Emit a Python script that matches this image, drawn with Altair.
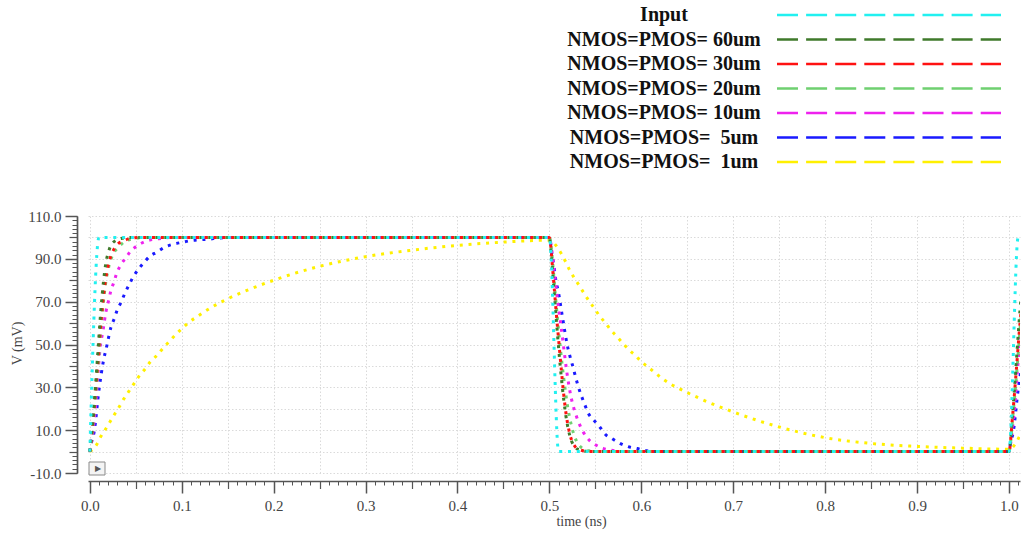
import altair as alt
import pandas as pd

# ---- waveform samples: time in ns, voltage in mV ----
input_t = [0.0, 0.01, 0.5, 0.51, 1.0, 1.01, 1.014]
input_v = [0, 100, 100, 0, 0, 100, 100]

w60_t = [0, .004, .008, .012, .015, .0174, .0205, .0228, .029, .035, .045,
         .5, .5015, .503, .5055, .508, .5105, .513, .5155, .518, .521, .524, .528, .533, .54, .55,
         1.0, 1.004, 1.008, 1.012, 1.015]
w60_v = [0, 18, 42, 66, 80, 88, 93.5, 96.2, 98.7, 99.6, 100,
         100, 95, 87, 73, 59, 46, 34.5, 24.5, 16.5, 9.5, 5, 2, 0.7, 0.1, 0,
         0, 18, 42, 66, 80]

w30_t = [0, .004, .008, .012, .016, .0195, .0228, .027, .0315, .0363, .042, .055,
         .5, .5015, .503, .5055, .508, .5105, .513, .5155, .518, .521, .524, .528, .533, .54, .55,
         1.0, 1.004, 1.008, 1.012, 1.016]
w30_v = [0, 17, 38, 60, 77, 86, 91.3, 95, 97.3, 98.3, 99.3, 100,
         100, 96, 88, 75, 62, 50, 38, 27, 18, 10.5, 5.5, 2.3, 0.8, 0.2, 0,
         0, 17, 38, 60, 77]

w20_t = [0, .0045, .009, .013, .017, .021, .025, .0308, .037, .045, .06,
         .5, .502, .504, .5065, .509, .5115, .514, .517, .52, .5235, .527, .531, .536, .543, .555,
         1.0, 1.0045, 1.009, 1.013, 1.017]
w20_v = [0, 18, 40, 62, 78, 87, 92, 95.2, 97.8, 99.2, 100,
         100, 95, 86, 73, 61, 50, 40, 29.5, 20.5, 13, 7.5, 3.8, 1.5, 0.4, 0,
         0, 18, 40, 62, 78]

w10_t = [0, .003, .006, .009, .0109, .0145, .0174, .0207, .0228, .0261, .029, .0334, .0392,
         .0443, .052, .0617, .075, .09,
         .5, .5025, .505, .508, .5105, .5131, .516, .519, .5238, .5294, .5365, .5438, .5493,
         .5584, .566, .58,
         1.0, 1.003, 1.006, 1.009, 1.0109, 1.0145]
w10_v = [0, 8, 20, 37, 47, 57, 65, 71, 75, 79, 83, 87, 90.5,
         93.5, 96.2, 98.3, 99.4, 100,
         100, 94, 85, 74, 65, 57, 47, 37, 25, 16.5, 9.4, 5.1, 3.4,
         1.5, 0.7, 0,
         0, 8, 20, 37, 47, 57]

w5_t = [0, .0018, .0045, .0101, .0145, .0188, .0228, .0265, .0297, .0337, .038, .0428, .0471,
        .0526, .0587, .0653, .0732, .0816, .0906, .1004, .11, .12, .13, .14, .16,
        .5, .5025, .5047, .507, .5096, .5143, .5193, .5259, .5313, .5385, .5422, .5484, .5548,
        .561, .5683, .5774, .5857, .5957, .6056, .62,
        1.0, 1.0018, 1.0045, 1.0101, 1.0145]
w5_v = [0, 4.3, 8.8, 29.3, 41.7, 50, 57.8, 62, 66, 69.5, 73.8, 78, 81.5,
        85, 88.2, 91.2, 93.2, 95.5, 96.8, 97.7, 98.5, 98.9, 99.2, 99.7, 100,
        100, 93, 87.4, 80, 74.9, 62.5, 50, 39.1, 30.5, 21.9, 18, 14.6, 11.5,
        8, 6, 3.7, 2.3, 1.4, 0.4, 0,
        0, 4.3, 8.8, 29.3, 41.7]

w1_t = [0, .0073, .0116, .0167, .0218, .0269, .032, .037, .0424, .0479, .0536, .0602, .066,
        .0732, .0797, .087, .0943, .1004, .108, .1167, .1243, .133, .1414, .1494,
        .2, .25, .3, .35, .4, .45, .5,
        .5076, .513, .5178, .5221, .5268, .5323, .5374, .5428, .5486, .554, .5602, .5664, .573,
        .5795, .5863, .5936, .6008, .6084, .6164, .6244, .6328, .6418,
        .66, .7, .75, .8, .85, .9, .95, 1.0,
        1.0073, 1.0116, 1.0167]
w1_v = [0, 3.2, 6.8, 10.2, 13.8, 17.4, 20.9, 24.6, 28.1, 31.6, 35.2, 38.6, 42,
        45, 48.3, 51.7, 55, 57.5, 60.5, 63, 65.2, 67.5, 69.5, 71.2,
        80, 86.5, 91, 94, 96.3, 97.8, 98.7,
        96, 92.4, 88.5, 84.7, 81.2, 77.6, 74.1, 70.5, 67.1, 63.7, 60.4, 57, 53.9,
        50.8, 47.6, 44.8, 41.7, 39.1, 36.3, 33.6, 31.3, 29.3,
        25.5, 18.5, 11.5, 6.5, 3.8, 2.4, 1.6, 1.1,
        3.8, 7.2, 10.6]

# ---- series names and colours (legend order) ----
labels = ["Input", "NMOS=PMOS= 60um", "NMOS=PMOS= 30um", "NMOS=PMOS= 20um",
          "NMOS=PMOS= 10um", "NMOS=PMOS= \u00a05um", "NMOS=PMOS= \u00a01um"]
colors = ["#22f0f0", "#3f7a2b", "#ff1111", "#6fd070", "#ee22ee", "#1a1aff", "#fff000"]
waves = [(input_t, input_v), (w60_t, w60_v), (w30_t, w30_v), (w20_t, w20_v),
         (w10_t, w10_v), (w5_t, w5_v), (w1_t, w1_v)]

# ---- axis tick positions ----
x_major_ticks = [round(i * 0.1, 2) for i in range(11)]
x_mid_ticks = [round(0.05 + i * 0.1, 2) for i in range(10)]
x_minor_ticks = [round(i * 0.01, 2) for i in range(102)]
x_grid_ticks = [round(i * 0.05, 2) for i in range(21)]
y_major_ticks = list(range(-10, 111, 20))
y_mid_ticks = list(range(0, 101, 20))
y_minor_ticks = list(range(-10, 111, 2))
y_grid_ticks = list(range(-10, 111, 10))

frames = []
for name, (ts, vs) in zip(labels, waves):
    frames.append(pd.DataFrame({"t": ts, "v": vs, "series": name}))
wave_df = pd.concat(frames, ignore_index=True)

serif = "Liberation Serif"
axis_color = "#555555"
text_color = "#444444"
grid_color = "#dadada"

xscale = alt.Scale(domain=[-0.002, 1.012], nice=False, zero=False)
yscale = alt.Scale(domain=[-10, 110], nice=False, zero=False)

common = dict(labelFlush=False, labelOverlap=False)

x_major = alt.Axis(orient="bottom", offset=8, values=x_major_ticks, format=".1f",
                   tickSize=12, tickWidth=1.5, tickColor=axis_color,
                   domainColor=axis_color, domainWidth=1.7,
                   labelFont=serif, labelFontSize=15, labelColor=text_color, labelPadding=5,
                   grid=False, title="time (ns)", titleFont=serif, titleFontSize=14,
                   titleFontWeight="normal", titleColor=text_color,
                   titleX=493, titleY=40, titleAlign="center", titleBaseline="middle", **common)
x_mid = alt.Axis(orient="bottom", offset=8, values=x_mid_ticks, tickSize=7.5, tickWidth=1.2,
                 tickColor=axis_color, domain=False, labels=False, grid=False, title=None)
x_minor = alt.Axis(orient="bottom", offset=8, values=x_minor_ticks, tickSize=4, tickWidth=1,
                   tickColor=axis_color, domain=False, labels=False, grid=False, title=None)
x_grid = alt.Axis(orient="bottom", values=x_grid_ticks, ticks=False, domain=False, labels=False,
                  grid=True, gridColor=grid_color, gridDash=[1.5, 2], gridWidth=1, title=None)

y_major = alt.Axis(orient="left", offset=11, values=y_major_ticks,
                   labelExpr="(datum.value < 0 ? '-' : '') + format(abs(datum.value), '.1f')",
                   tickSize=12, tickWidth=1.5, tickColor=axis_color,
                   domainColor=axis_color, domainWidth=1.7,
                   labelFont=serif, labelFontSize=15, labelColor=text_color, labelPadding=4,
                   grid=False, title="V (mV)", titleFont=serif, titleFontSize=14,
                   titleFontWeight="normal", titleColor=text_color,
                   titleX=-60, titleY=127, titleAlign="center", titleBaseline="middle", **common)
y_mid = alt.Axis(orient="left", offset=11, values=y_mid_ticks, tickSize=8, tickWidth=1.2,
                 tickColor=axis_color, domain=False, labels=False, grid=False, title=None)
y_minor = alt.Axis(orient="left", offset=11, values=y_minor_ticks, tickSize=5, tickWidth=1,
                   tickColor=axis_color, domain=False, labels=False, grid=False, title=None)
y_grid = alt.Axis(orient="left", values=y_grid_ticks, ticks=False, domain=False, labels=False,
                  grid=True, gridColor=grid_color, gridDash=[1.5, 2], gridWidth=1, title=None)

base = alt.Chart(wave_df)


def axis_layer(xa, ya):
    return base.mark_line(opacity=0).encode(
        x=alt.X("t:Q", scale=xscale, axis=xa),
        y=alt.Y("v:Q", scale=yscale, axis=ya),
    )


layers = [axis_layer(x_grid, y_grid), axis_layer(x_minor, y_minor), axis_layer(x_mid, y_mid)]

# small play-button box in the lower left corner of the plot
button_df = pd.DataFrame({"glyph": ["\u25b6"]})
layers.append(alt.Chart(button_df).mark_rect(fill="#f4f4f4", stroke="#8a8a8a", strokeWidth=1).encode(
    x=alt.value(1), x2=alt.value(17), y=alt.value(246), y2=alt.value(259)))
layers.append(alt.Chart(button_df).mark_text(fontSize=8, color="#555555", align="center",
                                             baseline="middle").encode(
    x=alt.value(9.5), y=alt.value(252.5), text="glyph:N"))

# draw order: slowest first, input on top
draw_order = [6, 5, 4, 3, 2, 1, 0]
for k, idx in enumerate(draw_order):
    name = labels[idx]
    first = k == 0
    layers.append(
        alt.Chart(wave_df[wave_df["series"] == name]).mark_line(
            strokeWidth=3, strokeDash=[3, 5.8], strokeCap="butt",
            interpolate="monotone", clip=True
        ).encode(
            x=alt.X("t:Q", scale=xscale, axis=x_major if first else None),
            y=alt.Y("v:Q", scale=yscale, axis=y_major if first else None),
            color=alt.value(colors[idx]),
        )
    )

# legend block above the plot: names on the left, dashed swatches on the right
legend_df = pd.DataFrame({"label": labels})
legend_y = alt.Y("label:N", sort=labels, axis=None,
                 scale=alt.Scale(type="point", domain=labels, range=[-201, -54], padding=0))
legend_color = alt.Color("label:N", scale=alt.Scale(domain=labels, range=colors), legend=None)

legend_lines = alt.Chart(legend_df).mark_rule(strokeWidth=2.6, strokeDash=[21, 8.1]).encode(
    x=alt.value(689), x2=alt.value(913), y=legend_y, color=legend_color)
legend_text = alt.Chart(legend_df).mark_text(
    font=serif, fontWeight="bold", fontSize=20, align="center", baseline="middle", color="#111111"
).encode(x=alt.value(576), y=legend_y, text="label:N")

chart = alt.layer(*layers, legend_lines, legend_text).resolve_scale(
    y="independent"
).resolve_axis(
    x="independent", y="independent"
).properties(
    width=932, height=257,
    padding={"left": 88, "top": 216, "right": 1, "bottom": 60},
    autosize=alt.AutoSizeParams(type="none"),
    background="white",
).configure_view(stroke=None)

chart.save("out.html", embed_options={"renderer": "svg", "actions": False})
